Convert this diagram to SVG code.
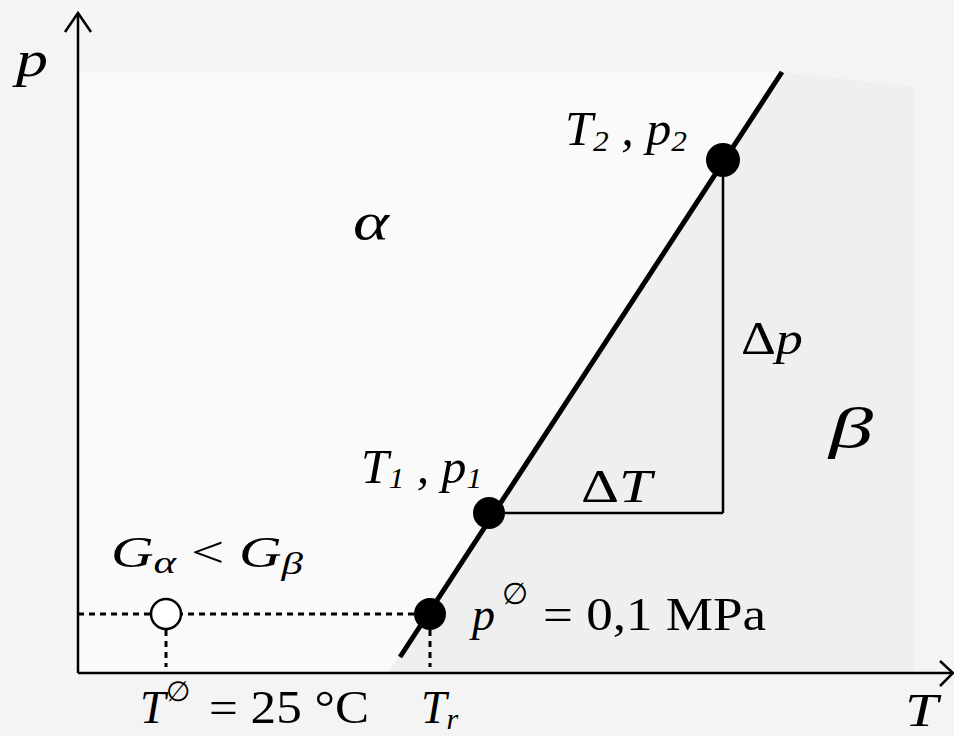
<svg xmlns="http://www.w3.org/2000/svg" width="954" height="736" viewBox="0 0 954 736">
<style>
text{font-family:'Liberation Serif','Times New Roman','DejaVu Serif',serif;fill:#000}
.t{font-style:italic}
.n{font-style:normal}
.ax{stroke:#000;stroke-width:2.5;fill:none}
.dot{fill:#000}
.dash{stroke:#000;stroke-width:3;stroke-dasharray:6 5;fill:none}
</style>
<rect width="954" height="736" fill="#f4f4f4"/>
<g id="regions">
<polygon points="78,72 782,72 388,673 78,673" fill="#fafafa"/>
<polygon points="782,72 914,87 914,673 388,673" fill="#efefef"/>
</g>
<g id="connectors">
<line class="ax" x1="78" y1="673" x2="78" y2="13"/>
<polyline class="ax" points="65,32 78,13 91,32"/>
<line class="ax" x1="78" y1="673" x2="953" y2="673"/>
<polyline class="ax" points="940,661 953,673 940,686"/>
<line x1="782" y1="72" x2="400" y2="657" stroke="#000" stroke-width="5"/>
<line x1="489" y1="513" x2="723" y2="513" stroke="#000" stroke-width="2.5"/>
<line x1="723" y1="160" x2="723" y2="513" stroke="#000" stroke-width="2.5"/>
<line class="dash" x1="78" y1="614" x2="420" y2="614"/>
<line class="dash" x1="166" y1="630" x2="166" y2="667"/>
<line class="dash" x1="430" y1="630" x2="430" y2="667"/>
</g>
<g id="T2p2">
<circle class="dot" cx="723" cy="160" r="17"/>
<text class="t" x="565" y="145" font-size="48" textLength="122" lengthAdjust="spacingAndGlyphs">T<tspan font-size="30" dy="6">2</tspan><tspan dy="-6"> , p</tspan><tspan font-size="30" dy="6">2</tspan></text>
</g>
<g id="T1p1">
<circle class="dot" cx="489" cy="513" r="16"/>
<text class="t" x="361" y="483" font-size="48" textLength="121" lengthAdjust="spacingAndGlyphs">T<tspan font-size="30" dy="5">1</tspan><tspan dy="-5"> , p</tspan><tspan font-size="30" dy="5">1</tspan></text>
</g>
<g id="Tr">
<circle class="dot" cx="430" cy="614" r="16"/>
<text class="t" x="472" y="630" font-size="46">p</text>
<text class="n" x="502" y="604" font-size="30">∅</text>
<text class="n" x="543" y="630" font-size="46" textLength="223" lengthAdjust="spacingAndGlyphs">= 0,1 MPa</text>
<text class="t" x="421" y="723" font-size="46">T<tspan font-size="30" dy="6">r</tspan></text>
</g>
<g id="standard">
<circle cx="166" cy="614" r="15" fill="#fff" stroke="#000" stroke-width="2.5"/>
<text class="t" x="111" y="567" font-size="44" textLength="192" lengthAdjust="spacingAndGlyphs">G<tspan font-size="32" dy="6">α</tspan><tspan class="n" dy="-6"> &lt; </tspan>G<tspan font-size="32" dy="7">β</tspan></text>
<text class="t" x="140" y="723" font-size="46">T</text>
<text class="n" x="166" y="701" font-size="28">∅</text>
<text class="n" x="209" y="723" font-size="46" textLength="160" lengthAdjust="spacingAndGlyphs">= 25 °C</text>
</g>
<g id="labels">
<text class="t" x="16" y="76" font-size="50" textLength="32" lengthAdjust="spacingAndGlyphs">p</text>
<text class="t" x="905" y="726" font-size="46" textLength="33" lengthAdjust="spacingAndGlyphs">T</text>
<text class="t" x="353" y="239" font-size="52" textLength="36" lengthAdjust="spacingAndGlyphs">α</text>
<text class="t" x="829" y="447" font-size="56" textLength="44" lengthAdjust="spacingAndGlyphs">β</text>
<text class="t" x="581" y="502" font-size="46" textLength="71" lengthAdjust="spacingAndGlyphs"><tspan class="n">Δ</tspan>T</text>
<text class="t" x="741" y="354" font-size="46" textLength="62" lengthAdjust="spacingAndGlyphs"><tspan class="n">Δ</tspan>p</text>
</g>
</svg>
